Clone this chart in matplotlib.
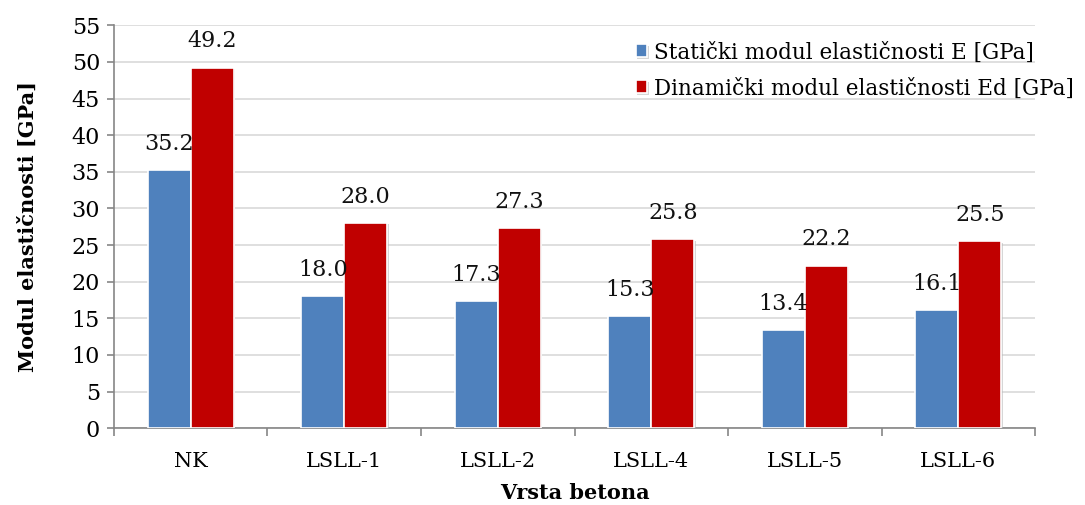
import matplotlib
matplotlib.use("Agg")
import matplotlib.pyplot as plt
import matplotlib.patheffects as pe
import numpy as np

plt.rcParams["font.family"] = ["DejaVu Serif"]

categories = ["NK", "LSLL-1", "LSLL-2", "LSLL-4", "LSLL-5", "LSLL-6"]
static_e = [35.2, 18.0, 17.3, 15.3, 13.4, 16.1]
dynamic_ed = [49.2, 28.0, 27.3, 25.8, 22.2, 25.5]

BLUE = "#4F81BD"
RED = "#C00000"
GRID = "#D9D9D9"
AXIS = "#868686"

fig = plt.figure(figsize=(10.85, 5.05), dpi=100)
ax = fig.add_axes([0.105, 0.152, 0.849, 0.798])

x = np.arange(len(categories))
w = 0.28
shadow = [pe.SimplePatchShadow(offset=(1, -1), shadow_rgbFace="#BBBBBB", alpha=0.6), pe.Normal()]
b1 = ax.bar(x - w / 2, static_e, w, color=BLUE, edgecolor="white", linewidth=1.2,
            label="Statički modul elastičnosti E [GPa]", zorder=3, path_effects=shadow)
b2 = ax.bar(x + w / 2, dynamic_ed, w, color=RED, edgecolor="white", linewidth=1.2,
            label="Dinamički modul elastičnosti Ed [GPa]", zorder=3, path_effects=shadow)

for bars in (b1, b2):
    ax.bar_label(bars, fmt="%.1f", padding=11, fontsize=16, color="#111111", zorder=4)

ax.set_xlim(-0.5, len(categories) - 0.5)
ax.set_ylim(0, 55)
ax.set_yticks(np.arange(0, 56, 5))
ax.yaxis.grid(True, color=GRID, linewidth=1.2, zorder=0)
ax.set_axisbelow(True)

ax.set_xticks(x)
ax.set_xticklabels(categories, fontsize=15)
ax.tick_params(axis="x", length=0, pad=17)
ax.set_xticks(np.arange(-0.5, len(categories)), minor=True)
ax.tick_params(axis="x", which="minor", length=6, width=1.2, color=AXIS)
ax.tick_params(axis="y", labelsize=16, length=5, width=1.2, color=AXIS, pad=5)

for s in ("top", "right"):
    ax.spines[s].set_visible(False)
for s in ("left", "bottom"):
    ax.spines[s].set_color(AXIS)
    ax.spines[s].set_linewidth(1.2)

ax.set_xlabel("Vrsta betona", fontsize=15, fontweight="bold", labelpad=9)
ax.set_ylabel("Modul elastičnosti [GPa]", fontsize=15, fontweight="bold", labelpad=24)

ax.legend(loc="upper right", bbox_to_anchor=(1.063, 1.008), frameon=False, fontsize=15.5,
          handlelength=0.55, handleheight=0.55, handletextpad=0.3, labelspacing=0.65)

fig.savefig("out.png", dpi=100, facecolor="white")
